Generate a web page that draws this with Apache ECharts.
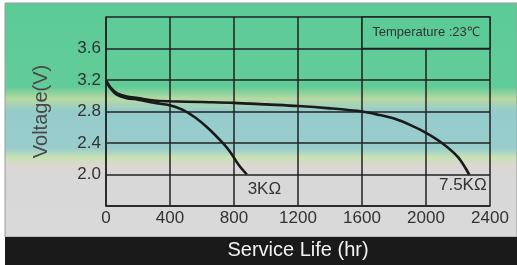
<!DOCTYPE html>
<html>
<head>
<meta charset="utf-8">
<script src="https://cdn.jsdelivr.net/npm/echarts@6/dist/echarts.min.js"></script>
<style>
    html, body {margin: 0; padding: 0; background: #fff;}
    #chart {width: 517px; height: 265px;}
</style>
</head>
<body>
<div id="chart"></div>
<script>
// [hours, volts]
var curve7k5 = [[0, 3.19], [30, 3.1], [70, 3.03], [130, 2.99], [200, 2.97], [300, 2.94], [400, 2.93],
    [600, 2.92], [800, 2.91], [1000, 2.89], [1200, 2.87], [1400, 2.84], [1600, 2.80], [1700, 2.76],
    [1800, 2.71], [1900, 2.63], [2000, 2.53], [2100, 2.40], [2200, 2.22], [2270, 2.0]];
var curve3k = [[0, 3.19], [30, 3.09], [70, 3.01], [130, 2.97], [200, 2.95], [300, 2.91], [400, 2.88],
    [480, 2.82], [560, 2.72], [645, 2.575], [725, 2.41], [775, 2.29], [830, 2.12], [880, 2.0]];
var curveNames = ['3K\u03A9', '7.5K\u03A9'];
var curveLabelPos = [[990, 1.815], [2230, 1.865]];
var xTicks = [0, 400, 800, 1200, 1600, 2000, 2400];
var yShown = ['2.0', '2.4', '2.8', '3.2', '3.6'];
var tempNote = 'Temperature :23\u2103';

var chart = echarts.init(document.getElementById('chart'));

var lineStyle = {color: '#1a1a1a', width: 2.6};
var labelFont = {color: '#333', fontSize: 17, fontFamily: 'Liberation Sans'};

function curveLabel(i) {
    // invisible point carrying the resistor name
    return {
        symbol: 'circle', symbolSize: 1,
        itemStyle: {color: 'rgba(0,0,0,0)'},
        label: Object.assign({show: true, position: 'inside', formatter: curveNames[i]}, labelFont),
        data: [{coord: curveLabelPos[i]}]
    };
}

var option = {
    animation: false,
    graphic: [
        {
            type: 'rect', z: -10, silent: true,
            shape: {x: 5, y: 3, width: 512, height: 234},
            style: {
                stroke: '#9a9a9a', lineWidth: 1,
                fill: new echarts.graphic.LinearGradient(0, 0, 0, 1, [
                    {offset: 0, color: '#5ccb98'},
                    {offset: 0.36, color: '#62cc98'},
                    {offset: 0.41, color: '#b8d9a2'},
                    {offset: 0.46, color: '#95cccb'},
                    {offset: 0.62, color: '#98cdcc'},
                    {offset: 0.66, color: '#c9e2b4'},
                    {offset: 0.70, color: '#dcd6d6'},
                    {offset: 0.74, color: '#d8d8d8'},
                    {offset: 1, color: '#d9d9d9'}
                ])
            }
        },
        {
            type: 'rect', z: -9, silent: true,
            shape: {x: 5, y: 237, width: 512, height: 28},
            style: {fill: '#1a1a1a'}
        }
    ],
    grid: {left: 106, right: 27, top: 17, bottom: 58},
    xAxis: {
        type: 'value', min: 0, max: 2400, interval: 400,
        name: 'Service Life (hr)', nameLocation: 'middle', nameGap: 34,
        nameTextStyle: {color: '#f2f2f2', fontSize: 20, fontFamily: 'Liberation Sans'},
        axisLine: {show: true, lineStyle: {color: '#222', width: 1.5}},
        axisTick: {show: false},
        axisLabel: Object.assign({margin: 4, formatter: function (v) {
            return xTicks.indexOf(v) >= 0 ? String(v) : '';
        }}, labelFont),
        splitLine: {show: true, lineStyle: {color: '#222', width: 1.5}}
    },
    yAxis: {
        type: 'value', min: 1.6, max: 4.0, interval: 0.4,
        name: 'Voltage(V)', nameLocation: 'middle', nameGap: 55,
        nameTextStyle: {color: '#484848', fontSize: 20, fontFamily: 'Liberation Sans'},
        axisLine: {show: true, lineStyle: {color: '#222', width: 1.5}},
        axisTick: {show: false},
        axisLabel: Object.assign({margin: 5, formatter: function (v) {
            var s = v.toFixed(1);
            return yShown.indexOf(s) >= 0 ? s : '';
        }}, labelFont),
        splitLine: {show: true, lineStyle: {color: '#222', width: 1.5}}
    },
    series: [
        {
            name: curveNames[0], type: 'line', data: curve3k,
            smooth: 0.3, showSymbol: false, lineStyle: lineStyle,
            markPoint: curveLabel(0)
        },
        {
            name: curveNames[1], type: 'line', data: curve7k5,
            smooth: 0.3, showSymbol: false, lineStyle: lineStyle,
            markPoint: curveLabel(1),
            markArea: {
                silent: true,
                itemStyle: {color: '#5ccb98', borderColor: '#222', borderWidth: 1.5},
                label: {
                    show: true, position: 'inside', color: '#333', fontSize: 13,
                    fontFamily: 'Liberation Sans', formatter: tempNote
                },
                data: [[{coord: [1600, 3.6]}, {coord: [2400, 4.0]}]]
            }
        }
    ]
};

chart.setOption(option);
</script>
</body>
</html>
